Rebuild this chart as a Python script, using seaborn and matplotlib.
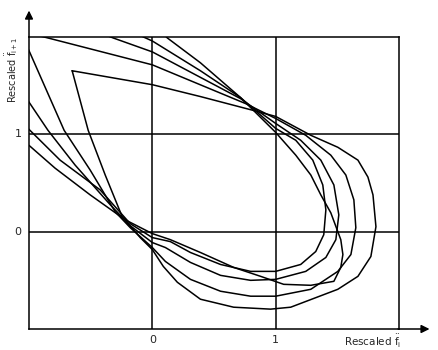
import matplotlib
matplotlib.use("Agg")
import matplotlib.pyplot as plt
import seaborn as sns
import pandas as pd

# Curves (rescaled f_i, rescaled f_{i+1})
c1_x = [-0.650, 0.000, 0.390, 0.821, 1.000, 1.285, 1.504, 1.667, 1.748, 1.789, 1.813, 1.772, 1.667, 1.504, 1.122, 0.959, 0.659, 0.390, 0.203, 0.089, 0.000, -0.098, -0.244, -0.382, -0.520, -0.650]
c1_y = [1.653, 1.510, 1.388, 1.245, 1.184, 0.990, 0.867, 0.735, 0.561, 0.378, 0.051, -0.255, -0.459, -0.592, -0.776, -0.796, -0.776, -0.694, -0.520, -0.357, -0.184, -0.061, 0.153, 0.582, 1.041, 1.653]

c2_x = [-1.073, -0.846, 0.000, 0.756, 1.000, 1.244, 1.447, 1.569, 1.634, 1.650, 1.610, 1.504, 1.285, 1.000, 0.797, 0.553, 0.309, 0.106, 0.000, -0.179, -0.301, -0.504, -0.715, -0.992, -1.073]
c2_y = [2.061, 1.990, 1.714, 1.316, 1.163, 0.990, 0.786, 0.582, 0.327, 0.041, -0.235, -0.408, -0.592, -0.663, -0.663, -0.612, -0.490, -0.306, -0.163, 0.041, 0.204, 0.633, 1.041, 1.837, 2.061]

c3_x = [-0.463, -0.317, 0.000, 0.715, 1.000, 1.203, 1.366, 1.472, 1.512, 1.488, 1.407, 1.244, 1.000, 0.797, 0.553, 0.309, 0.106, 0.000, -0.179, -0.341, -0.626, -0.846, -0.992, -1.073]
c3_y = [2.061, 1.990, 1.847, 1.367, 1.112, 0.939, 0.735, 0.480, 0.173, -0.082, -0.265, -0.408, -0.490, -0.500, -0.449, -0.316, -0.163, -0.112, 0.061, 0.276, 0.684, 1.041, 1.316, 1.469]

c4_x = [-0.179, 0.000, 0.390, 0.715, 1.000, 1.163, 1.301, 1.382, 1.407, 1.390, 1.325, 1.203, 1.000, 0.797, 0.553, 0.309, 0.146, 0.000, -0.179, -0.423, -0.748, -0.992, -1.073]
c4_y = [2.061, 1.959, 1.653, 1.378, 1.061, 0.939, 0.735, 0.480, 0.224, -0.031, -0.204, -0.337, -0.408, -0.408, -0.337, -0.214, -0.102, -0.061, 0.082, 0.429, 0.735, 1.041, 1.143]

c5_x = [0.024, 0.122, 0.390, 0.715, 1.000, 1.163, 1.285, 1.366, 1.447, 1.528, 1.545, 1.528, 1.472, 1.285, 1.065, 0.878, 0.659, 0.390, 0.146, 0.000, -0.220, -0.504, -0.789, -0.992, -1.114]
c5_y = [2.112, 1.990, 1.735, 1.378, 1.020, 0.786, 0.582, 0.378, 0.194, -0.082, -0.235, -0.367, -0.510, -0.551, -0.541, -0.459, -0.367, -0.214, -0.082, -0.020, 0.122, 0.378, 0.653, 0.878, 1.000]

x_ticks = [0, 1]
y_ticks = [0, 1]
tick_labels = ["0", "1"]
x_label = r"Rescaled $\ddot{\mathrm{f}}_{\mathrm{i}}$"
y_label = r"Rescaled $\ddot{\mathrm{f}}_{\mathrm{i+1}}$"

curves = [(c1_x, c1_y), (c2_x, c2_y), (c3_x, c3_y), (c4_x, c4_y), (c5_x, c5_y)]
frames = []
for k, (xs, ys) in enumerate(curves):
    frames.append(pd.DataFrame({"x": xs, "y": ys, "curve": k, "order": range(len(xs))}))
df = pd.concat(frames, ignore_index=True)

sns.set_style("white")
plt.rcParams["font.family"] = ["DejaVu Sans"]

fig = plt.figure(figsize=(4.38, 3.5), dpi=100)
ax = fig.add_axes([29 / 438, 21 / 350, 370 / 438, 292 / 350])

lw = 1.1
for k in range(len(curves)):
    sub = df[df["curve"] == k]
    sns.lineplot(data=sub, x="x", y="y", sort=False, estimator=None, color="black",
                 linewidth=lw, ax=ax, legend=False)

ax.set_xlim(-1, 2)
ax.set_ylim(-1, 2)
for v in x_ticks:
    ax.axvline(v, color="black", lw=lw)
for v in y_ticks:
    ax.axhline(v, color="black", lw=lw)
for s in ax.spines.values():
    s.set_color("black")
    s.set_linewidth(lw)

ax.set_xticks([])
ax.set_yticks([])
ax.set_xlabel("")
ax.set_ylabel("")

# arrows on axes
ax.annotate("", xy=(1.09, 0), xycoords="axes fraction", xytext=(0.99, 0),
            arrowprops=dict(arrowstyle="-|>", color="black", lw=lw, mutation_scale=12), annotation_clip=False)
ax.annotate("", xy=(0, 1.1), xycoords="axes fraction", xytext=(0, 0.99),
            arrowprops=dict(arrowstyle="-|>", color="black", lw=lw, mutation_scale=12), annotation_clip=False)

for v, t in zip(x_ticks, tick_labels):
    ax.text(v, -1.06, t, ha="center", va="top", fontsize=8)
for v, t in zip(y_ticks, tick_labels):
    ax.text(-1.06, v, t, ha="right", va="center", fontsize=8)

ax.text(1.79, -1.04, x_label, ha="center", va="top", fontsize=7.5)
ax.text(-1.14, 1.66, y_label, ha="center", va="center", rotation=90, fontsize=7)

fig.savefig("out.png", dpi=100)
